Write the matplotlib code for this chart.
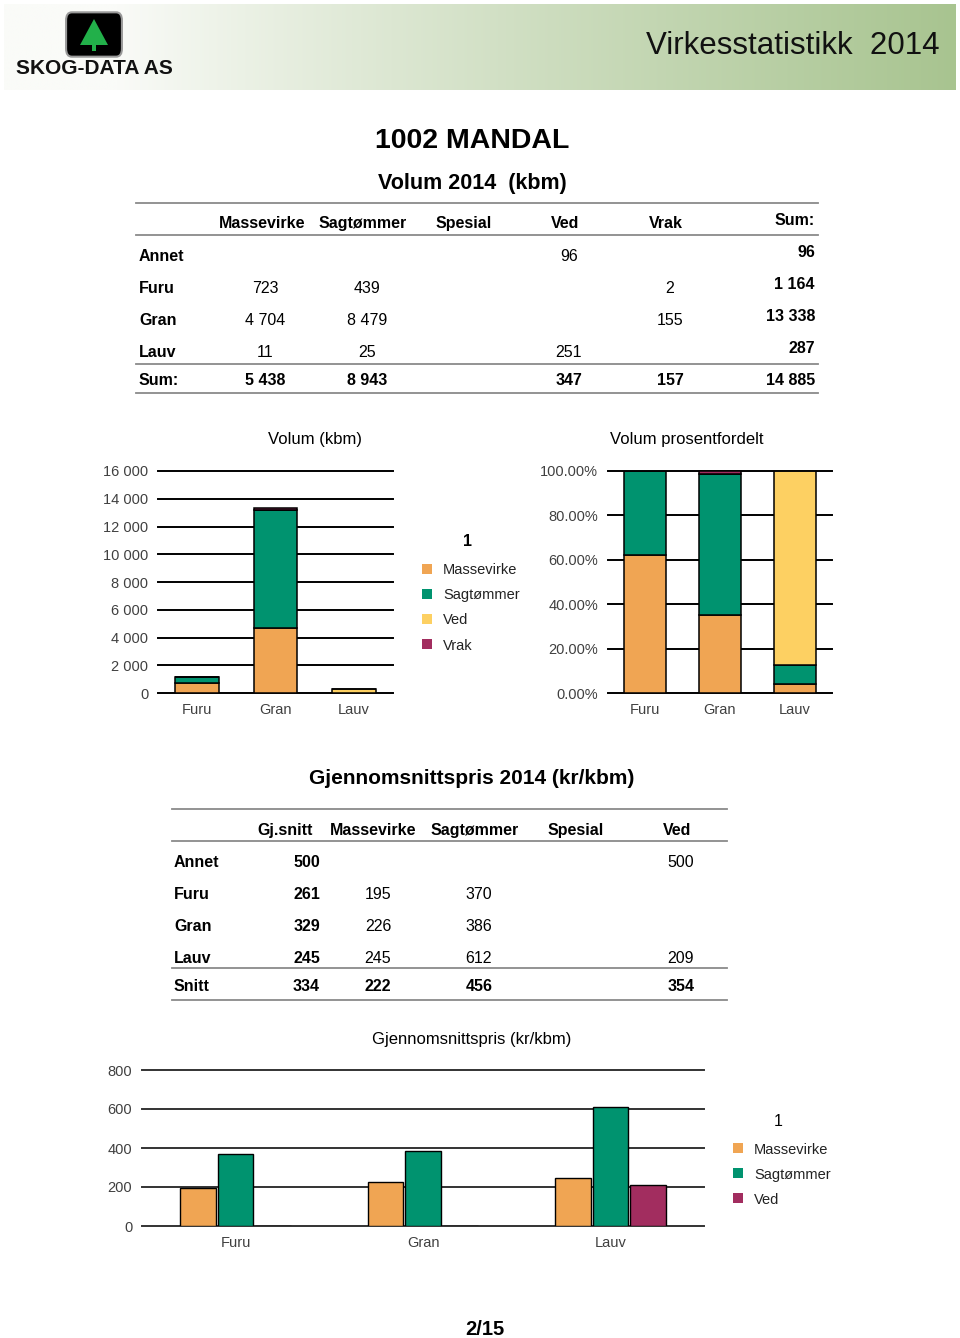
import numpy as np
import matplotlib.pyplot as plt
from matplotlib.patches import Rectangle, FancyBboxPatch, Polygon
from matplotlib.lines import Line2D
from matplotlib.ticker import PercentFormatter, FuncFormatter

plt.rcParams['font.family'] = ['Liberation Sans', 'DejaVu Sans']

W, H = 960, 1338

# --- data -------------------------------------------------------------
treslag = ['Annet', 'Furu', 'Gran', 'Lauv']
kolonner = ['Massevirke', 'Sagtømmer', 'Spesial', 'Ved', 'Vrak']
massevirke = [None, 723, 4704, 11]
sagtommer = [None, 439, 8479, 25]
spesial = [None, None, None, None]
ved = [96, None, None, 251]
vrak = [None, 2, 155, None]

pris_kolonner = ['Gj.snitt', 'Massevirke', 'Sagtømmer', 'Spesial', 'Ved']
gjsnitt = [500, 261, 329, 245]
pris_massevirke = [None, 195, 226, 245]
pris_sagtommer = [None, 370, 386, 612]
pris_spesial = [None, None, None, None]
pris_ved = [500, None, None, 209]
snitt = [334, 222, 456, None, 354]

ORANGE = '#F0A553'
GREEN = '#00936F'
YELLOW = '#FDD062'
PURPLE = '#A22D5F'
GRAYLINE = '#8a8a8a'


def fx(x):
    return x / W


def fy(y):
    return 1 - y / H


def fmt(v):
    return f"{v:,}".replace(",", " ")


def nz(lst):
    return np.array([0 if v is None else v for v in lst], dtype=float)


fig = plt.figure(figsize=(9.6, 13.38), dpi=100)


def txt(x, y, s, **kw):
    kw.setdefault('va', 'center')
    kw.setdefault('fontsize', 11.5)
    fig.text(fx(x), fy(y + 1.5), s, **kw)


def hline(x0, x1, y, color=GRAYLINE, lw=1.3):
    fig.add_artist(Line2D([fx(x0), fx(x1)], [fy(y), fy(y)], color=color, lw=lw))


def axes_px(l, t, r, b):
    return fig.add_axes([fx(l), fy(b), (r - l) / W, (b - t) / H])


# --- header -----------------------------------------------------------
hax = axes_px(4, 4, 956, 90)
t = np.linspace(0, 1, 400)
ramp = np.clip((t - 0.12) / 0.88, 0, 1) ** 0.9
c0 = np.array([250, 251, 248]) / 255
c1 = np.array([168, 196, 144]) / 255
grad = c0[None, :] * (1 - ramp[:, None]) + c1[None, :] * ramp[:, None]
hax.imshow(grad[None, :, :], aspect='auto', extent=[0, 1, 0, 1])
hax.axis('off')

# logo
fig.add_artist(FancyBboxPatch((fx(68), fy(54)), 52 / W, 39 / H,
                              boxstyle='round,pad=0.002,rounding_size=0.006',
                              fc='black', ec='#999999', lw=1.5))
fig.add_artist(Polygon([(fx(94), fy(19)), (fx(80), fy(45)), (fx(108), fy(45))],
                       closed=True, fc='#22b04a', ec='none'))
fig.add_artist(Rectangle((fx(92), fy(51)), 4 / W, 6 / H, fc='#22b04a', ec='none'))
txt(94, 67, 'SKOG-DATA AS', ha='center', fontsize=15, fontweight='bold',
    color='#111111')
txt(940, 45, 'Virkesstatistikk  2014', ha='right', fontsize=22.5, color='#111111')

# --- titles -----------------------------------------------------------
txt(472, 139, '1002 MANDAL', ha='center', fontsize=20.5, fontweight='bold')
txt(472, 182, 'Volum 2014  (kbm)', ha='center', fontsize=15.5, fontweight='bold')

# --- volume table -----------------------------------------------------
for y in (203, 235, 364, 393):
    hline(136, 818, y)
head_x = [262, 363, 464, 565, 666]
val_x = [265, 367, 468, 569, 670]
for x, k in zip(head_x, kolonner):
    txt(x, 222, k, ha='center', fontweight='bold')
txt(815, 219, 'Sum:', ha='right', fontweight='bold')

cols = [massevirke, sagtommer, spesial, ved, vrak]
row_y = [255, 287, 319, 351]
for i, (name, y) in enumerate(zip(treslag, row_y)):
    txt(139, y, name, fontweight='bold')
    for x, col in zip(val_x, cols):
        if col[i] is not None:
            txt(x, y, fmt(col[i]), ha='center')
    txt(815, y - 4, fmt(int(sum(nz(c)[i] for c in cols))), ha='right', fontweight='bold')
txt(139, 379, 'Sum:', fontweight='bold')
for x, col in zip(val_x, cols):
    if any(v is not None for v in col):
        txt(x, 379, fmt(int(nz(col).sum())), ha='center', fontweight='bold')
txt(815, 379, fmt(int(sum(nz(c).sum() for c in cols))), ha='right', fontweight='bold')


# --- charts -----------------------------------------------------------
def style(ax, ymax, step, formatter, grid_color='black'):
    ax.set_xlim(-0.5, 2.5)
    ax.set_ylim(0, ymax)
    for s in ax.spines.values():
        s.set_visible(False)
    ax.set_yticks(np.arange(0, ymax + step / 2, step))
    ax.yaxis.set_major_formatter(formatter)
    ax.yaxis.grid(True, color=grid_color, lw=1.4)
    ax.set_axisbelow(True)
    for ln in ax.get_ygridlines():
        ln.set_clip_on(False)
    ax.tick_params(length=0, labelsize=10.5, labelcolor='#404040', pad=7)
    ax.patch.set_alpha(0)


def legend(x_sq, x_title, y_title, ys, names, colors, bold):
    txt(x_title, y_title, '1', ha='center', fontsize=11.5,
        fontweight='bold' if bold else 'normal')
    for y, n, c in zip(ys, names, colors):
        fig.add_artist(Rectangle((fx(x_sq), fy(y + 5)), 10 / W, 10 / H, fc=c, ec='none'))
        txt(x_sq + 21, y, n, fontsize=10.5, color='#222222')


idx = [1, 2, 3]
labels = [treslag[i] for i in idx]
x = np.arange(3)
stack = [(massevirke, ORANGE), (sagtommer, GREEN), (ved, YELLOW), (vrak, PURPLE)]

ax1 = axes_px(158, 471, 393, 693)
bottom = np.zeros(3)
for col, c in stack:
    v = nz(col)[idx]
    ax1.bar(x, v, 0.56, bottom=bottom, color=c, edgecolor='black', lw=1.1)
    bottom += v
style(ax1, 16000, 2000, FuncFormatter(lambda v, p: fmt(int(v))))
ax1.set_xticks(x, labels)
txt(315, 438, 'Volum (kbm)', ha='center', fontsize=12)
legend(422, 467, 540, [569, 594, 619, 644],
       ['Massevirke', 'Sagtømmer', 'Ved', 'Vrak'], [ORANGE, GREEN, YELLOW, PURPLE], True)

ax2 = axes_px(608, 471, 832, 693)
tot = sum(nz(col)[idx] for col, c in stack)
bottom = np.zeros(3)
for col, c in stack:
    v = nz(col)[idx] / tot
    ax2.bar(x, v, 0.56, bottom=bottom, color=c, edgecolor='black', lw=1.1)
    bottom += v
style(ax2, 1.0, 0.2, PercentFormatter(1, decimals=2))
ax2.set_xticks(x, labels)
txt(687, 438, 'Volum prosentfordelt', ha='center', fontsize=12)

# --- price table ------------------------------------------------------
txt(472, 777, 'Gjennomsnittspris 2014 (kr/kbm)', ha='center', fontsize=15, fontweight='bold')
for y in (809, 841, 968, 1000):
    hline(172, 727, y)
ph_x = [285, 373, 475, 576, 677]
for xx, k in zip(ph_x, pris_kolonner):
    txt(xx, 829, k, ha='center', fontweight='bold')
pcols = [pris_massevirke, pris_sagtommer, pris_spesial, pris_ved]
pv_x = [378, 479, 580, 681]
prow_y = [861, 893, 925, 957]
for i, (name, y) in enumerate(zip(treslag, prow_y)):
    txt(174, y, name, fontweight='bold')
    txt(320, y, str(gjsnitt[i]), ha='right', fontweight='bold')
    for xx, col in zip(pv_x, pcols):
        if col[i] is not None:
            txt(xx, y, str(col[i]), ha='center')
txt(174, 985, 'Snitt', fontweight='bold')
txt(320, 985, str(snitt[0]), ha='right', fontweight='bold')
for xx, v in zip(pv_x, snitt[1:]):
    if v is not None:
        txt(xx, 985, str(v), ha='center', fontweight='bold')

# --- price chart ------------------------------------------------------
ax3 = axes_px(142, 1070, 704, 1226)
for off, (col, c) in zip([-0.2, 0, 0.2],
                         [(pris_massevirke, ORANGE), (pris_sagtommer, GREEN), (pris_ved, PURPLE)]):
    ax3.bar(x + off, nz(col)[idx], 0.19, color=c, edgecolor='black', lw=1.0)
style(ax3, 800, 200, FuncFormatter(lambda v, p: f"{int(v)}"), grid_color='#333333')
ax3.set_xticks(x, labels)
txt(472, 1038, 'Gjennomsnittspris (kr/kbm)', ha='center', fontsize=12)
legend(733, 778, 1120, [1148, 1173, 1198],
       ['Massevirke', 'Sagtømmer', 'Ved'], [ORANGE, GREEN, PURPLE], False)

txt(485, 1328, '2/15', ha='center', fontsize=14.5, fontweight='bold')

fig.savefig('out.png', dpi=100)
